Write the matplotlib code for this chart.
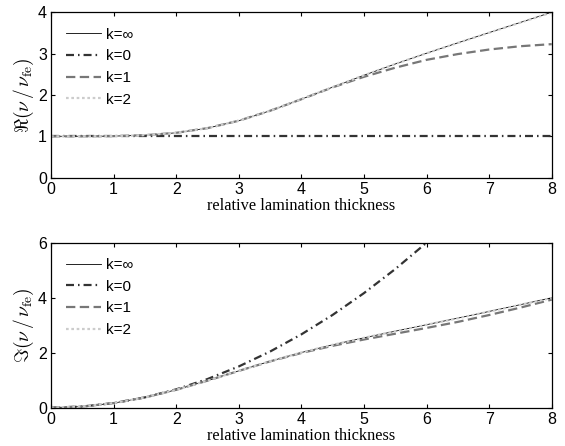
import matplotlib
matplotlib.use("Agg")
import matplotlib.pyplot as plt

# relative lamination thickness
x = [0, 0.5, 1, 1.5, 2, 2.5, 3, 3.5, 4, 4.5, 5, 5.5, 6, 6.5, 7, 7.5, 8]

# real part of nu/nu_fe
re_kinf = [1.0, 1.0003, 1.0055, 1.0278, 1.0857, 1.1987, 1.3781, 1.6183, 1.8978,
           2.1903, 2.4769, 2.75, 3.0101, 3.2617, 3.509, 3.7553, 4.0023]
re_k0 = [1.0] * 17
re_k1 = [1.0, 1.0003, 1.0055, 1.0278, 1.0857, 1.1987, 1.3781, 1.6183, 1.8975,
         2.185, 2.44, 2.66, 2.85, 2.99, 3.10, 3.18, 3.23]
re_k2 = [1.0, 1.0003, 1.0055, 1.0278, 1.0857, 1.1987, 1.3781, 1.6183, 1.8978,
         2.1903, 2.4769, 2.75, 3.0095, 3.26, 3.507, 3.751, 3.995]

# imaginary part of nu/nu_fe
im_kinf = [0.0, 0.0417, 0.1664, 0.372, 0.6504, 0.9829, 1.3398, 1.6884, 2.0061,
           2.2876, 2.5418, 2.7819, 3.0185, 3.2574, 3.5006, 3.7476, 3.9969]
im_k0 = [0.0, 0.0417, 0.1667, 0.375, 0.6667, 1.0417, 1.5, 2.0417, 2.6667,
         3.375, 4.1667, 5.0417, 6.0, 7.0417, 8.1667, 9.375, 10.6667]
im_k1 = [0.0, 0.0417, 0.1664, 0.372, 0.6504, 0.9825, 1.338, 1.684, 1.99,
         2.25, 2.48, 2.69, 2.90, 3.12, 3.37, 3.64, 3.93]
im_k2 = [0.0, 0.0417, 0.1664, 0.372, 0.6504, 0.9829, 1.3398, 1.6884, 2.006,
         2.287, 2.541, 2.78, 3.015, 3.253, 3.495, 3.742, 3.99]

labels = ["k=\u221e", "k=0", "k=1", "k=2"]

plt.rcParams["font.family"] = ["Liberation Sans", "DejaVu Sans"]
plt.rcParams["mathtext.fontset"] = "cm"

fig = plt.figure(figsize=(5.65, 4.46), dpi=100)
ax1 = fig.add_axes([0.0903, 0.6016, 0.8862, 0.3708])
ax2 = fig.add_axes([0.0903, 0.0859, 0.8862, 0.3699])


def draw(ax, ys, ylim, yticks, ylabel):
    ax.plot(x, ys[0], color="black", lw=0.6, label=labels[0])
    ax.plot(x, ys[1], color="#333333", lw=1.6, dashes=(3.6, 1.8, 0.7, 1.8), label=labels[1])
    ax.plot(x, ys[2], color="#777777", lw=1.6, dashes=(4.2, 2.0), label=labels[2])
    ax.plot(x, ys[3], color="#cccccc", lw=1.6, dashes=(1.2, 1.2), label=labels[3])
    ax.set_xlim(0, 8)
    ax.set_ylim(*ylim)
    ax.set_xticks(range(0, 9))
    ax.set_yticks(yticks)
    ax.tick_params(direction="in", top=True, right=True, length=3, labelsize=11.5, pad=3)
    for s in ax.spines.values():
        s.set_linewidth(0.9)
    ax.set_xlabel("relative lamination thickness", family="Liberation Serif", fontsize=11.8, labelpad=1)
    ax.set_ylabel(ylabel, fontsize=14, labelpad=1)
    ax.legend(loc="upper left", frameon=False, fontsize=11, handlelength=2.3,
              handletextpad=0.3, labelspacing=0.5, borderaxespad=0.6)


draw(ax1, [re_kinf, re_k0, re_k1, re_k2], (0, 4), [0, 1, 2, 3, 4], r"$\Re(\nu\,/\,\nu_{\rm fe})$")
draw(ax2, [im_kinf, im_k0, im_k1, im_k2], (0, 6), [0, 2, 4, 6], r"$\Im(\nu\,/\,\nu_{\rm fe})$")

fig.savefig("out.png", dpi=100)
